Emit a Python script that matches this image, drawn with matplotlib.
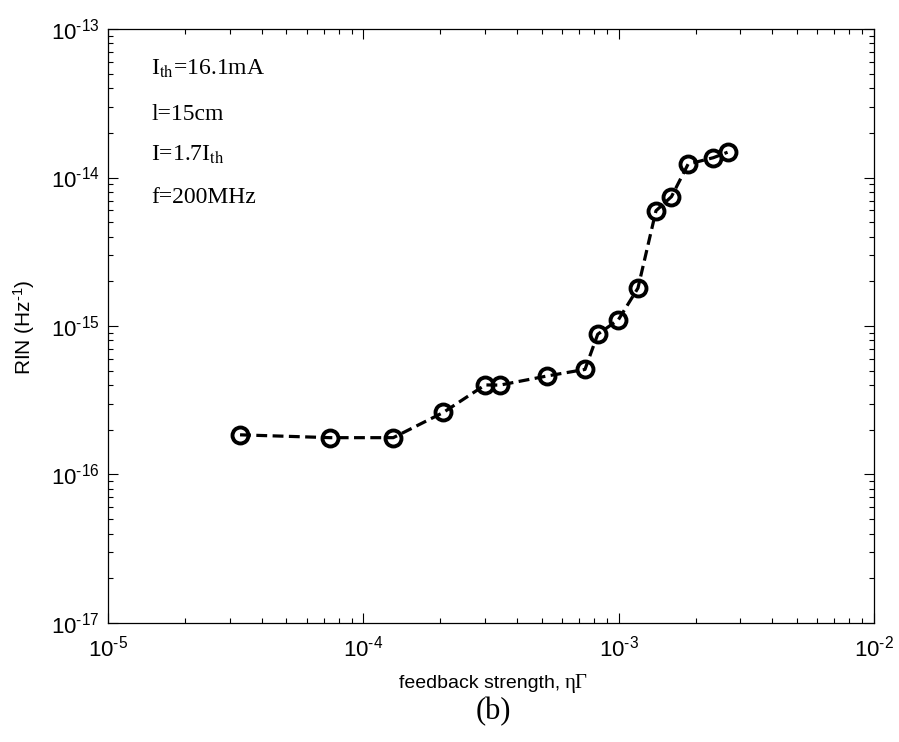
import numpy as np
import matplotlib
matplotlib.use("Agg")
import matplotlib.pyplot as plt
from matplotlib.ticker import LogLocator, FixedLocator, FuncFormatter, NullFormatter

# data
feedback = [3.29e-5, 7.41e-5, 1.31e-4, 2.06e-4, 3.00e-4, 3.43e-4, 5.22e-4, 7.38e-4,
            8.28e-4, 9.97e-4, 1.19e-3, 1.40e-3, 1.61e-3, 1.87e-3, 2.35e-3, 2.67e-3]
rin = [1.85e-16, 1.77e-16, 1.77e-16, 2.62e-16, 4.01e-16, 4.0e-16, 4.6e-16, 5.1e-16,
       8.8e-16, 1.10e-15, 1.80e-15, 5.97e-15, 7.43e-15, 1.23e-14, 1.36e-14, 1.48e-14]
xticks = [1e-5, 1e-4, 1e-3, 1e-2]
yticks = [1e-17, 1e-16, 1e-15, 1e-14, 1e-13]
notes = [r'I$_{\rm th}$=16.1mA', 'l=15cm', r'I=1.7I$_{\rm th}$', 'f=200MHz']

plt.rcParams['font.family'] = 'Liberation Sans'
plt.rcParams['mathtext.fontset'] = 'custom'
plt.rcParams['mathtext.rm'] = 'Liberation Sans'
plt.rcParams['mathtext.it'] = 'Liberation Sans'
plt.rcParams['axes.unicode_minus'] = False

HYPH = '\u2010'  # short hyphen in the exponents, like the reference

fig = plt.figure(figsize=(8.99, 7.42), dpi=100)
ax = fig.add_axes([0.1201, 0.1604, 0.8521, 0.8005])

ax.plot(feedback, rin, color='black', linestyle=(0, (3.4, 1.7)), linewidth=2.3,
        marker='o', markersize=11.5, markerfacecolor='none', markeredgewidth=2.8)

ax.set_xscale('log')
ax.set_yscale('log')
ax.set_xlim(xticks[0], xticks[-1])
ax.set_ylim(yticks[0], yticks[-1])

def pow10(v, pos):
    e = int(round(np.log10(v)))
    return r'10$^{%s%d}$' % (HYPH if e < 0 else '', abs(e))

for a, t in ((ax.xaxis, xticks), (ax.yaxis, yticks)):
    a.set_major_locator(FixedLocator(t))
    a.set_minor_locator(LogLocator(base=10, subs=np.arange(2, 10), numticks=10))
    a.set_major_formatter(FuncFormatter(pow10))
    a.set_minor_formatter(NullFormatter())

ax.tick_params(which='both', direction='in', top=True, right=True, width=0.8)
ax.tick_params(which='major', length=7, labelsize=16)
ax.tick_params(which='minor', length=3.6)
ax.tick_params(axis='x', which='major', pad=9)
ax.tick_params(axis='y', which='major', pad=6)
for s in ax.spines.values():
    s.set_linewidth(0.9)

ax.set_ylabel(r'RIN (Hz$^{%s1}$)' % HYPH, fontsize=15, va='center')
ax.yaxis.set_label_coords(-0.1097, 0.498)

# x label: sans text followed by serif greek letters, as in the reference
fig.text(560 / 899, 0.0728, 'feedback strength,', fontsize=14, ha='right', va='baseline')
fig.text(565 / 899, 0.0728, 'ηΓ', fontsize=15, family='Liberation Serif',
         ha='left', va='baseline')

ys = [0.899, 0.838, 0.784, 0.726]
for t, y in zip(notes, ys):
    fig.text(0.168, y, t, fontsize=17, family='Liberation Serif',
             math_fontfamily='stix', va='baseline')

fig.text(493 / 899, 1 - 712 / 742, '(b)', fontsize=22, family='Liberation Serif',
         ha='center', va='center')

fig.savefig('out.png', dpi=100)
